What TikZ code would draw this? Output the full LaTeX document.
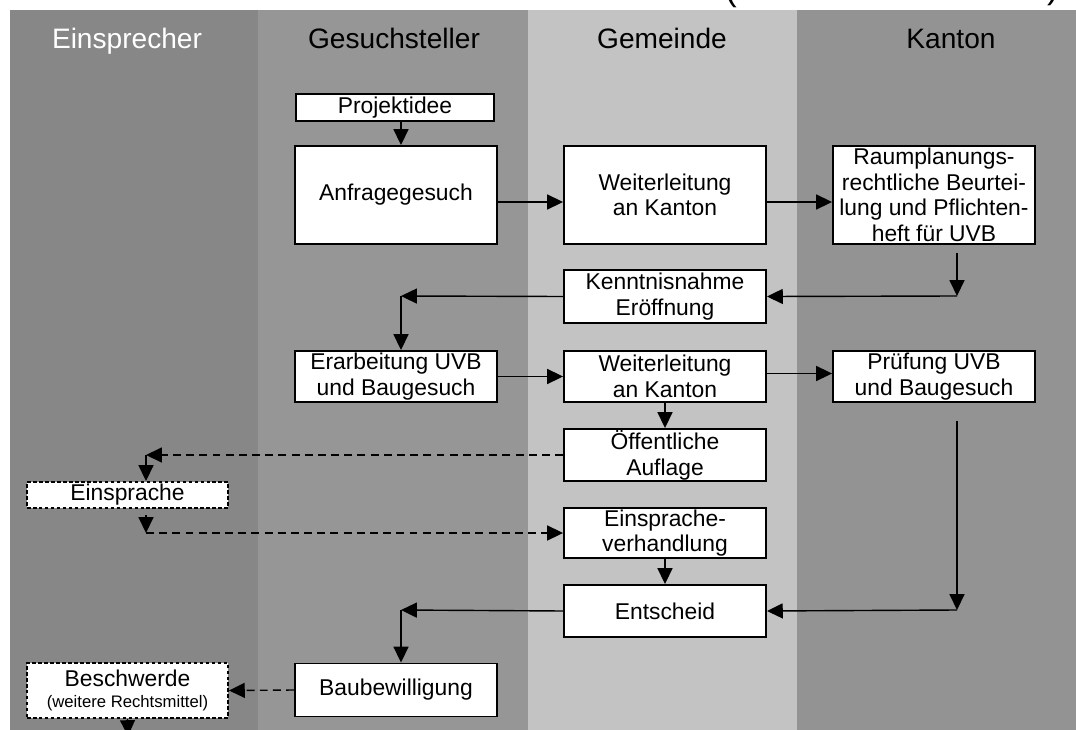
\documentclass[tikz,border=0pt]{standalone}
\usepackage{fontspec}
\setmainfont{Liberation Sans}
\usetikzlibrary{positioning,calc,arrows.meta}

\definecolor{laneEin}{gray}{0.53}
\definecolor{laneGes}{gray}{0.59}
\definecolor{laneGem}{gray}{0.765}
\definecolor{laneKan}{gray}{0.575}

\begin{document}
\begin{tikzpicture}[x=0.02cm,y=-0.02cm,
    box/.style={draw,line width=1.1pt,fill=white,align=center,inner sep=0pt,
      minimum width=4.04cm,font=\fontsize{13}{14.6}\selectfont},
    dbox/.style={box,dash pattern=on 2pt off 1.4pt},
    arr/.style={-{Triangle[length=9pt,width=8.5pt]},line width=0.8pt},
    darr/.style={arr,dash pattern=on 4.5pt off 3pt},
    lanehead/.style={anchor=base,font=\fontsize{16}{19}\selectfont}]

  \useasboundingbox (0,0) rectangle (1076,730);

  % lanes
  \fill[laneEin] (10,10) rectangle (258,730);
  \fill[laneGes] (258,10) rectangle (528,730);
  \fill[laneGem] (528,10) rectangle (797,730);
  \fill[laneKan] (797,10) rectangle (1076,730);

  \node[anchor=south,inner sep=0pt,font=\fontsize{20}{20}\selectfont] (lpar) at (731,8) {(};
  \node[anchor=south,inner sep=0pt,font=\fontsize{20}{20}\selectfont] (rpar) at (1053,6) {)};

  \node[lanehead,text=white] (hEin) at (127,49) {Einsprecher};
  \node[lanehead] (hGes) at (394,49) {Gesuchsteller};
  \node[lanehead] (hGem) at (662,49) {Gemeinde};
  \node[lanehead] (hKan) at (951,49) {Kanton};

  % boxes
  \node[box,minimum width=3.96cm,minimum height=0.54cm] (idee) at (395,107.5) {Projektidee};
  \node[box,minimum height=1.96cm] (anfrage) at (396,195) {Anfragegesuch};
  \node[box,minimum height=1.96cm] (weit1) at (665,195) {Weiterleitung\\an Kanton};
  \node[box,minimum height=1.96cm] (raum) at (934,195)
    {Raumplanungs-\\rechtliche Beurtei-\\lung und Pflichten-\\heft für UVB};
  \node[box,minimum height=1.06cm] (kennt) at (665,296.5) {Kenntnisnahme\\Eröffnung};
  \node[box,minimum height=1.02cm] (erarb) at (396,376.5) {Erarbeitung UVB\\und Baugesuch};
  \node[box,minimum height=1.02cm] (weit2) at (665,376.5) {Weiterleitung\\an Kanton};
  \node[box,minimum height=1.02cm] (pruef) at (934,376.5) {Prüfung UVB\\und Baugesuch};
  \node[box,minimum height=1.04cm] (auflage) at (665,455) {Öffentliche\\Auflage};
  \node[dbox,minimum width=4.02cm,minimum height=0.52cm] (einsprache) at (127.5,495) {Einsprache};
  \node[box,minimum height=1cm] (verhandlung) at (665,533) {Einsprache-\\verhandlung};
  \node[box,minimum height=1.04cm] (entscheid) at (665,611) {Entscheid};
  \node[box,minimum height=1.06cm] (baubew) at (396,690) {Baubewilligung};
  \node[dbox,minimum width=4.02cm,minimum height=1.1cm] (beschwerde) at (127.5,690.5)
    {Beschwerde\\[-3pt]{\fontsize{9.5}{11}\selectfont (weitere Rechtsmittel)}};

  % corners
  \coordinate (g1) at (401,296);
  \coordinate (g2) at (401,610);
  \coordinate (k1) at (957,296);
  \coordinate (k2) at (957,610);
  \coordinate (e1) at (146,455);
  \coordinate (e2) at (146,533);
  \coordinate (b1) at (128,736);

  % connectors
  \draw[arr] (idee.south -| g1) -- (anfrage.north -| g1);
  \draw[arr] ([yshift=-0.14cm]anfrage.east) -- ([yshift=-0.14cm]weit1.west);
  \draw[arr] ([yshift=-0.14cm]weit1.east) -- ([yshift=-0.14cm]raum.west);
  \draw[arr] ($(k1 |- raum.south)+(0,8)$) -- (k1);
  \draw[arr] (k1) -- (kennt.east);
  \draw[arr] (kennt.west) -- (g1);
  \draw[arr] (g1) -- (g1 |- erarb.north);
  \draw[arr] (erarb.east) -- (weit2.west);
  \draw[arr] ([yshift=0.06cm]weit2.east) -- ([yshift=0.06cm]pruef.west);
  \draw[arr] (weit2.south) -- (auflage.north);
  \draw[arr] ($(k2 |- pruef.south)+(0,18)$) -- (k2);
  \draw[arr] (k2) -- (entscheid.east);
  \draw[darr] (auflage.west) -- (e1);
  \draw[arr] (e1) -- (e1 |- einsprache.north);
  \draw[arr] ($(e1 |- einsprache.south)+(0,6)$) -- (e2);
  \draw[darr] (e2) -- (verhandlung.west);
  \draw[arr] (verhandlung.south) -- (entscheid.north);
  \draw[arr] (entscheid.west) -- (g2);
  \draw[arr] (g2) -- (g2 |- baubew.north);
  \draw[darr] (baubew.west) -- (beschwerde.east);
  \draw[arr] (beschwerde.south) -- (b1);
\end{tikzpicture}
\end{document}
